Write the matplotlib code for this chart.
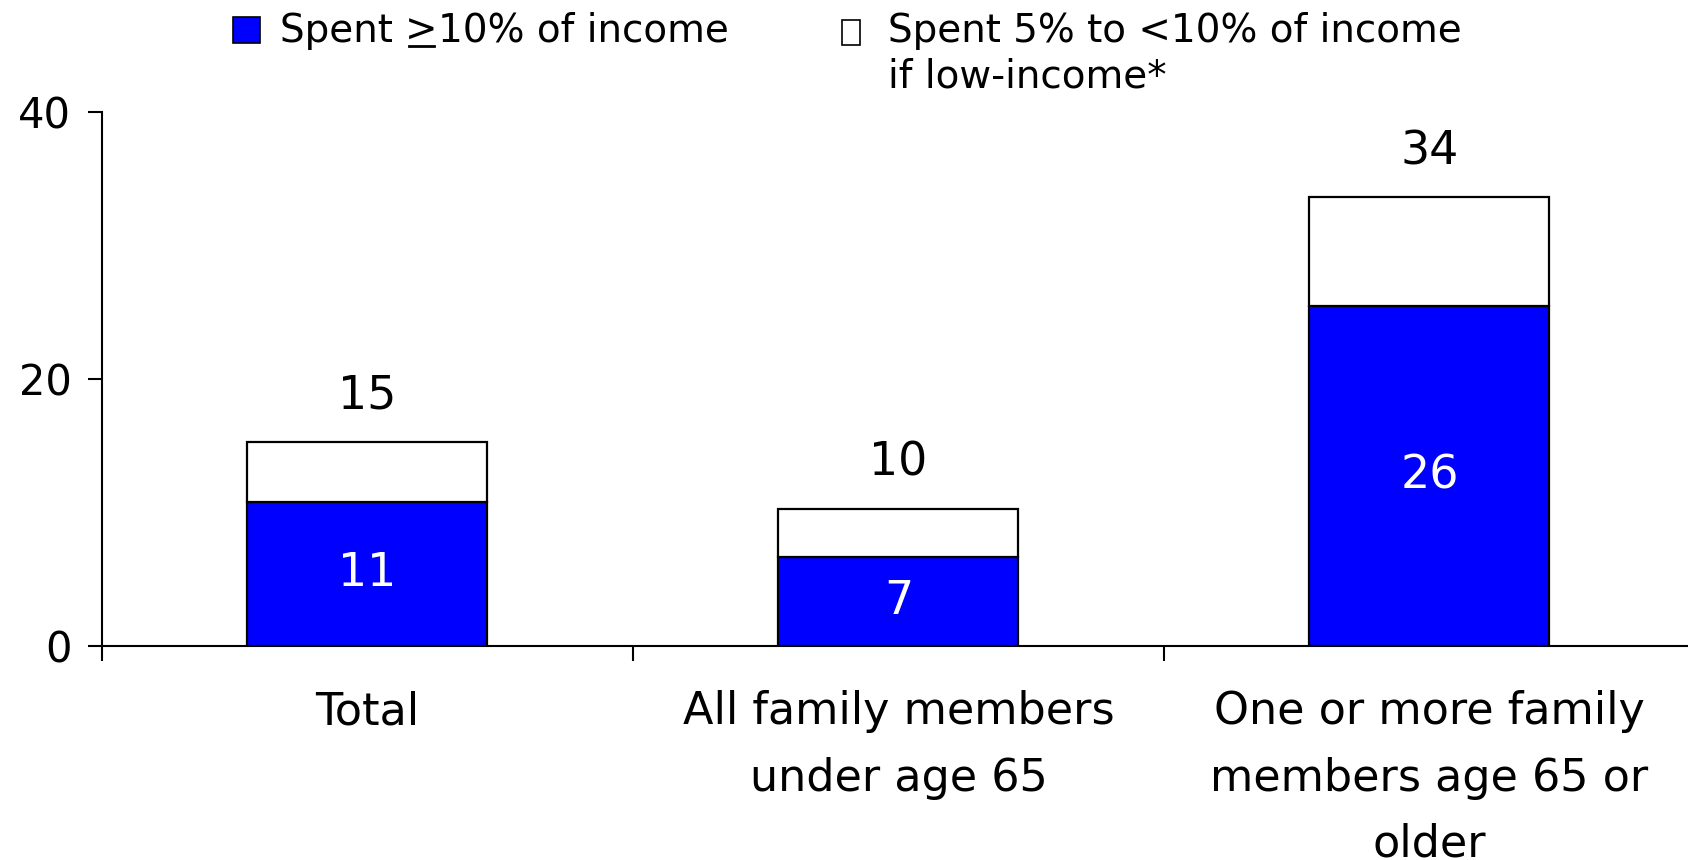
import numpy as np
import matplotlib.pyplot as plt
from matplotlib.patches import Rectangle
from matplotlib.lines import Line2D

# Share of families by out-of-pocket spending (percent)
categories = ["Total", "All family members\nunder age 65",
              "One or more family\nmembers age 65 or\nolder"]
spent_10 = [10.8, 6.7, 25.5]        # spent >=10% of income
spent_5_10 = [4.5, 3.6, 8.1]        # spent 5% to <10% if low-income
inner_labels = ["11", "7", "26"]
total_labels = ["15", "10", "34"]
yticks = [0, 20, 40]

plt.rcParams['font.family'] = ['DejaVu Sans']

W, H = 1688, 860
fig = plt.figure(figsize=(W / 100, H / 100), dpi=100)
ax = fig.add_axes([0.0604, 0.2488, 0.9396, 0.621])

x = np.arange(len(categories))
w = 0.452
ax.bar(x, spent_10, w, color="#0000ff", edgecolor="black", linewidth=1.6, zorder=3)
ax.bar(x, spent_5_10, w, bottom=spent_10, color="white", edgecolor="black",
       linewidth=1.6, zorder=3)

for i in range(len(x)):
    ax.text(x[i], spent_10[i] / 2, inner_labels[i], color="white", fontsize=33,
            ha="center", va="center", zorder=4)
    ax.annotate(total_labels[i], (x[i], spent_10[i] + spent_5_10[i]),
                xytext=(0, 33), textcoords="offset points",
                ha="center", va="center", fontsize=33)

ax.set_xlim(-0.5, 2.487)
ax.set_ylim(0, 40)
ax.set_yticks(yticks)
ax.tick_params(axis="y", labelsize=30, length=10, width=1.5, pad=12)

# boundary ticks, labels centred between them
ax.set_xticks([-0.5, 0.5, 1.5])
ax.set_xticklabels([])
ax.set_xticks(x, minor=True)
ax.set_xticklabels(categories, minor=True, fontsize=32, linespacing=1.68)
ax.tick_params(axis="x", which="major", length=11, width=1.5)
ax.tick_params(axis="x", which="minor", length=0, pad=32)

for s in ["top", "right"]:
    ax.spines[s].set_visible(False)
for s in ["left", "bottom"]:
    ax.spines[s].set_linewidth(1.5)

# legend drawn at the top of the figure
fs = 28
fig.patches.append(Rectangle((233 / W, 1 - 43 / H), 27 / W, 26 / H,
                             transform=fig.transFigure, facecolor="#0000ff",
                             edgecolor="black", linewidth=1.2))
r = fig.canvas.get_renderer()
t1 = fig.text(280 / W, 1 - 31 / H, "Spent ", fontsize=fs, va="center", ha="left")
x1 = t1.get_window_extent(r).x1
t2 = fig.text(x1 / W, 1 - 31 / H, ">", fontsize=fs, va="center", ha="left")
b2 = t2.get_window_extent(r)
fig.lines.append(Line2D([(b2.x0 + 4) / W, (b2.x1 - 4) / W],
                        [1 - 46 / H, 1 - 46 / H], transform=fig.transFigure,
                        color="black", linewidth=2))
fig.text(b2.x1 / W, 1 - 31 / H, "10% of income", fontsize=fs, va="center", ha="left")

fig.patches.append(Rectangle((842 / W, 1 - 45 / H), 18 / W, 25 / H,
                             transform=fig.transFigure, facecolor="white",
                             edgecolor="black", linewidth=1.2))
fig.text(888 / W, 1 - 31 / H, "Spent 5% to <10% of income", fontsize=fs,
         va="center", ha="left")
fig.text(888 / W, 1 - 76 / H, "if low-income*", fontsize=fs,
         va="center", ha="left")

plt.savefig("out.png", dpi=100)
